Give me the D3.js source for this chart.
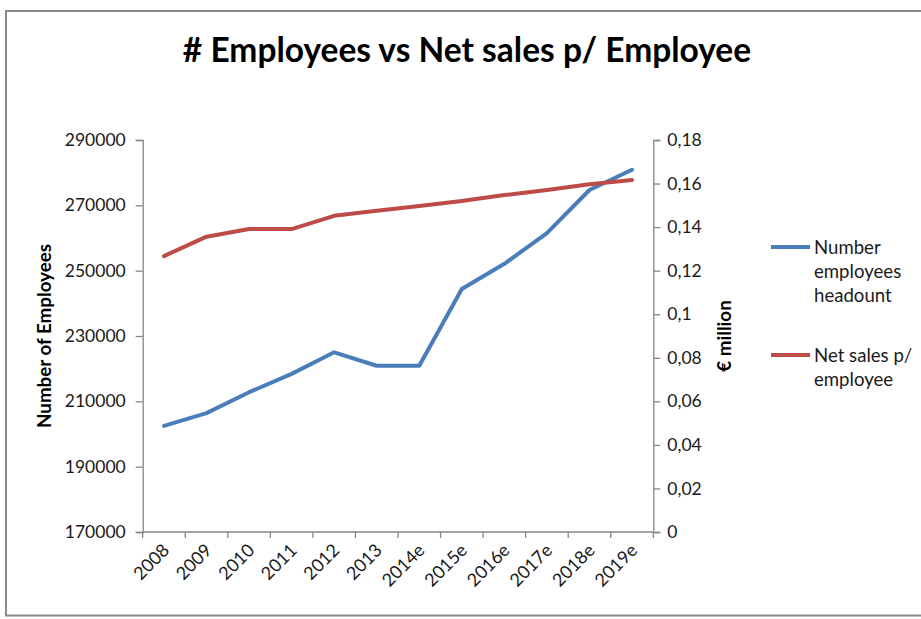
<!DOCTYPE html>
<html>
<head>
<meta charset="utf-8">
<script src="https://cdn.jsdelivr.net/npm/d3@7"></script>
<style>
  html, body { margin: 0; padding: 0; background: #fff; }
  svg { display: block; }
  text { font-family: Lato, "Open Sans", sans-serif; fill: #1a1a1a; }
</style>
</head>
<body>
<svg id="chart" width="921" height="619"></svg>
<script>
// Years on the category axis
const years = ["2008", "2009", "2010", "2011", "2012", "2013", "2014e", "2015e", "2016e", "2017e", "2018e", "2019e"];

// Headcount (left axis)
const employees = [202500, 206400, 212800, 218400, 225000, 220900, 220900, 244400, 252100, 261500, 274700, 280900];

// Net sales per employee in € million (right axis)
const salesPerEmployee = [0.1267, 0.1356, 0.1391, 0.1391, 0.1452, 0.1475, 0.1497, 0.1520, 0.1547, 0.1570, 0.1597, 0.1616];

const leftTicks = [170000, 190000, 210000, 230000, 250000, 270000, 290000];
const rightTicks = [0, 0.02, 0.04, 0.06, 0.08, 0.1, 0.12, 0.14, 0.16, 0.18];

const seriesNames = [["Number", "employees", "headount"], ["Net sales p/", "employee"]];
const seriesColors = ["#4a7ebb", "#be4b48"];

const svg = d3.select("#chart");
const W = 921, H = 619;
const plot = { left: 142.7, right: 653.3, top: 140, bottom: 532 };
const axisColor = "#868686";

// Chart frame
svg.append("rect")
  .attr("x", 6).attr("y", 11)
  .attr("width", W + 20).attr("height", 604.5)
  .attr("fill", "#fff")
  .attr("stroke", "#8a8a8a").attr("stroke-width", 2);

// Title
svg.append("text")
  .attr("x", 467).attr("y", 62)
  .attr("text-anchor", "middle")
  .style("font-size", "33.5px").style("font-weight", "bold")
  .style("fill", "#000")
  .text("# Employees vs Net sales p/ Employee");

// Scales
const x = d3.scaleBand().domain(years).range([plot.left, plot.right]).paddingInner(0).paddingOuter(0);
const yL = d3.scaleLinear().domain([170000, 290000]).range([plot.bottom, plot.top]);
const yR = d3.scaleLinear().domain([0, 0.18]).range([plot.bottom, plot.top]);

const fmtComma = d => d === 0 ? "0" : d3.format(".2f")(d).replace(/0$/, "").replace(".", ",");

// Left axis
const gL = svg.append("g").attr("transform", `translate(${plot.left},0)`)
  .call(d3.axisLeft(yL).tickValues(leftTicks).tickSize(7).tickPadding(10).tickFormat(d3.format("d")));

// Right axis
const gR = svg.append("g").attr("transform", `translate(${plot.right},0)`)
  .call(d3.axisRight(yR).tickValues(rightTicks).tickSize(7).tickPadding(7).tickFormat(fmtComma));

// Bottom axis: ticks sit on category boundaries
const boundaries = years.map(d => x(d)).concat([plot.right]);
const gB = svg.append("g").attr("transform", `translate(0,${plot.bottom})`);
gB.append("line").attr("x1", plot.left).attr("x2", plot.right).attr("y1", 0).attr("y2", 0);
gB.selectAll("line.tick").data(boundaries).join("line")
  .attr("class", "tick")
  .attr("x1", d => d).attr("x2", d => d).attr("y1", 0).attr("y2", 6);
gB.selectAll("line").attr("stroke", axisColor).attr("stroke-width", 1.3);
gB.selectAll("text").data(years).join("text")
  .attr("transform", d => `translate(${x(d) + x.bandwidth() / 2 + 2},${15}) rotate(-45)`)
  .attr("text-anchor", "end")
  .attr("dy", "0.35em")
  .style("font-size", "18px")
  .text(d => d);

[gL, gR].forEach(g => {
  g.select(".domain").attr("stroke", axisColor).attr("stroke-width", 1.3);
  g.selectAll(".tick line").attr("stroke", axisColor).attr("stroke-width", 1.3);
  g.selectAll(".tick text").style("font-size", "17.5px").style("font-family", "Lato, 'Open Sans', sans-serif").attr("fill", "#1a1a1a");
});

// Axis titles
svg.append("text")
  .attr("transform", `translate(51,${(plot.top + plot.bottom) / 2}) rotate(-90)`)
  .attr("text-anchor", "middle")
  .style("font-size", "18.8px").style("font-weight", "bold").style("fill", "#000")
  .text("Number of Employees");

svg.append("text")
  .attr("transform", `translate(731,${(plot.top + plot.bottom) / 2}) rotate(-90)`)
  .attr("text-anchor", "middle")
  .style("font-size", "18.8px").style("font-weight", "bold").style("fill", "#000")
  .text("€ million");

// Lines
const cx = d => x(d) + x.bandwidth() / 2;
const lineL = d3.line().x((d, i) => cx(years[i])).y(d => yL(d));
const lineR = d3.line().x((d, i) => cx(years[i])).y(d => yR(d));

svg.append("path").datum(employees)
  .attr("d", lineL).attr("fill", "none")
  .attr("stroke", seriesColors[0]).attr("stroke-width", 4)
  .attr("stroke-linejoin", "round").attr("stroke-linecap", "round");

svg.append("path").datum(salesPerEmployee)
  .attr("d", lineR).attr("fill", "none")
  .attr("stroke", seriesColors[1]).attr("stroke-width", 4)
  .attr("stroke-linejoin", "round").attr("stroke-linecap", "round");

// Legend
const legendY = [247, 355];
const leg = svg.append("g");
seriesNames.forEach((lines, i) => {
  leg.append("line")
    .attr("x1", 771).attr("x2", 810)
    .attr("y1", legendY[i]).attr("y2", legendY[i])
    .attr("stroke", seriesColors[i]).attr("stroke-width", 4);
  const t = leg.append("text").attr("x", 814).attr("y", legendY[i])
    .style("font-size", "18.6px");
  lines.forEach((s, j) => {
    t.append("tspan").attr("x", 814).attr("dy", j === 0 ? "0.35em" : "1.31em").text(s);
  });
});
</script>
</body>
</html>
